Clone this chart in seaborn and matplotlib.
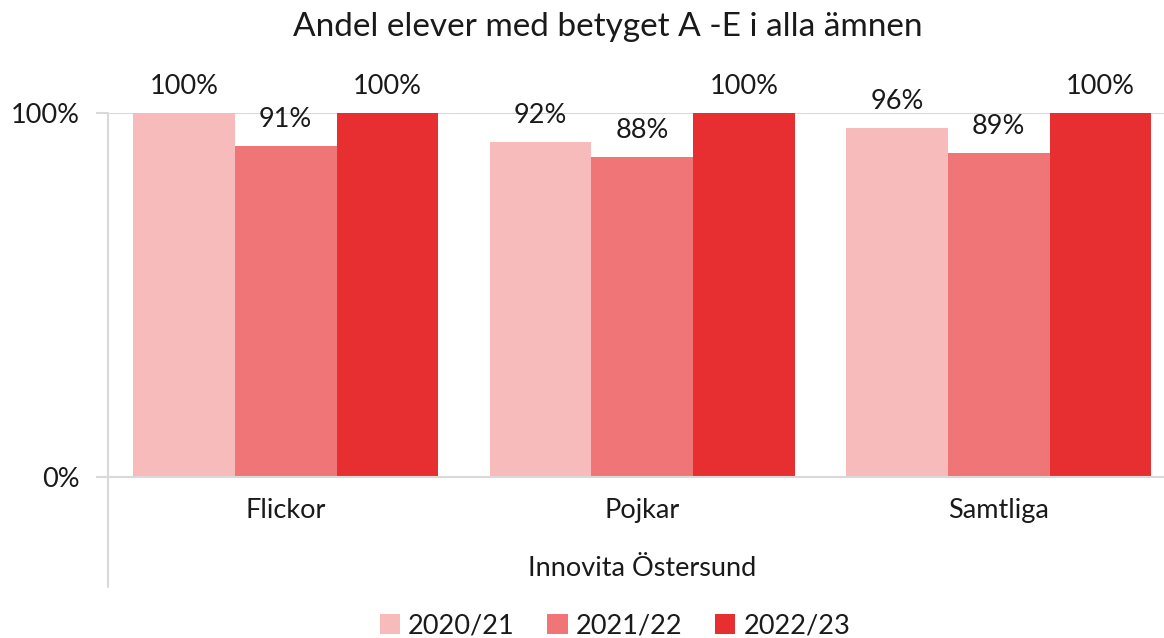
import matplotlib
matplotlib.use("Agg")
import matplotlib.pyplot as plt
import seaborn as sns
import pandas as pd
from matplotlib.patches import Patch

categories = ["Flickor", "Pojkar", "Samtliga"]
years = ["2020/21", "2021/22", "2022/23"]
values_2020 = [1.00, 0.92, 0.96]
values_2021 = [0.91, 0.88, 0.89]
values_2022 = [1.00, 1.00, 1.00]
colors = ["#F8BBBC", "#EF7576", "#E72E31"]
title = "Andel elever med betyget A -E i alla ämnen"
group_label = "Innovita Östersund"

rows = []
for yr, vals in zip(years, [values_2020, values_2021, values_2022]):
    for c, v in zip(categories, vals):
        rows.append({"kategori": c, "år": yr, "andel": v})
df = pd.DataFrame(rows)

sns.set_theme(style="white")
plt.rcParams["font.family"] = ["Lato", "DejaVu Sans"]
txt = "#1a1a1a"
grid_c = "#D9D9D9"
fs = 19.5

fig = plt.figure(figsize=(11.64, 6.38), dpi=100)
ax = fig.add_axes([107.5 / 1164, (638 - 477) / 638, 1069.5 / 1164, 364 / 638])

sns.barplot(data=df, x="kategori", y="andel", hue="år", palette=colors,
            width=0.856, saturation=1, gap=0, ax=ax, legend=False, linewidth=0)

ax.set_ylim(0, 1)
ax.set_xlim(-0.5, 2.5)
ax.set_yticks([0, 1])
ax.set_yticklabels(["0%", "100%"], fontsize=fs, color=txt)
ax.tick_params(axis="y", length=9, width=1.5, color=grid_c, pad=11, left=True)
ax.tick_params(axis="x", length=0, pad=15, labelsize=fs, labelcolor=txt)
ax.set_xlabel("")
ax.set_ylabel("")
for s in ["top", "right", "left"]:
    ax.spines[s].set_visible(False)
ax.spines["bottom"].set_color(grid_c)
ax.spines["bottom"].set_linewidth(1.5)
ax.axhline(1, color=grid_c, lw=1.5, zorder=0)
ax.plot([0, 0], [-0.302, 1], transform=ax.transAxes, color=grid_c, lw=1.5,
        clip_on=False, zorder=0)

for cont in ax.containers:
    labels = [f"{round(b.get_height() * 100):d}%" for b in cont]
    ax.bar_label(cont, labels=labels, padding=10, fontsize=fs, color=txt)

ax.text(0.5, -0.25, group_label, transform=ax.transAxes, ha="center", va="center",
        fontsize=fs, color=txt)

fig.text(608 / 1164, 1 - 27 / 638, title, ha="center", va="center", fontsize=24, color=txt)

handles = [Patch(facecolor=c, edgecolor="none") for c in colors]
fig.legend(handles, years, loc="center", bbox_to_anchor=(615 / 1164, 1 - 626 / 638),
           ncol=3, frameon=False, fontsize=fs, handlelength=0.75, handleheight=0.75,
           handletextpad=0.3, columnspacing=1.2, labelcolor=txt)

fig.savefig("out.png", dpi=100)
